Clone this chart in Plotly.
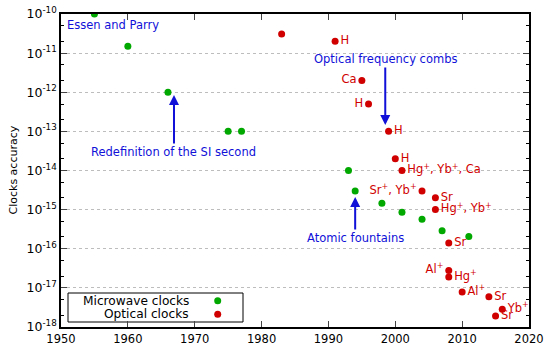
import math
import plotly.graph_objects as go

# ---- data ----
mw_years = [1955, 1960, 1966, 1975, 1977, 1993, 1994, 1998, 2001, 2004, 2007, 2011]
mw_acc = [1e-10, 1.5e-11, 1e-12, 1e-13, 1e-13, 1e-14, 3e-15, 1.45e-15, 8.6e-16, 5.7e-16, 2.9e-16, 2.05e-16]

opt_years = [1983, 1991, 1995, 1996, 1999, 2000, 2001, 2004, 2006, 2006, 2008, 2008, 2008, 2010, 2014, 2016, 2015]
opt_acc = [3.1e-11, 2e-11, 2e-12, 5e-13, 1e-13, 2e-14, 1e-14, 3e-15, 2e-15, 1e-15, 1.4e-16,
           2.8e-17, 1.9e-17, 7.9e-18, 5.9e-18, 2.85e-18, 1.9e-18]
opt_labels = ["", "H", "Ca", "H", "H", "H", "Hg<sup>+</sup>, Yb<sup>+</sup>, Ca", "Sr<sup>+</sup>, Yb<sup>+</sup>",
              "Sr", "Hg<sup>+</sup>, Yb<sup>+</sup>", "Sr", "Al<sup>+</sup>", "Hg<sup>+</sup>", "Al<sup>+</sup>",
              "Sr", "Yb<sup>+</sup>", "Sr"]
opt_label_side = ["middle right", "middle right", "middle left", "middle left", "middle right", "middle right",
                  "middle right", "middle left", "middle right", "middle right", "middle right", "middle left",
                  "middle right", "middle right", "middle right", "middle right", "middle right"]

x_ticks = [1950, 1960, 1970, 1980, 1990, 2000, 2010, 2020]
y_exps = [-18, -17, -16, -15, -14, -13, -12, -11, -10]
y_ticktext = ["10<sup>%d</sup>" % e for e in y_exps]

# events: (label, year, accuracy at arrow head, text offset px)
events = [
    ("Redefinition of the SI second", 1966.9, 8.5e-13, 57),
    ("Optical frequency combs", 1998.5, 1.45e-13, -66),
    ("Atomic fountains", 1994.0, 2.1e-15, 41),
]

GREEN = "#00a800"
RED = "#d00000"
BLUE = "#1010d8"
FONT = "DejaVu Sans"

fig = go.Figure()
fig.add_trace(go.Scatter(x=mw_years, y=mw_acc, mode="markers", name="Microwave clocks",
                         marker=dict(color=GREEN, size=7), showlegend=False))
fig.add_trace(go.Scatter(x=opt_years, y=opt_acc, mode="markers+text", name="Optical clocks",
                         text=opt_labels, textposition=opt_label_side,
                         textfont=dict(color=RED, size=11.5, family=FONT),
                         marker=dict(color=RED, size=7), showlegend=False))

annotations = []
for label, yr, acc, off in events:
    annotations.append(dict(x=yr, y=math.log10(acc), xref="x", yref="y", text=label,
                            showarrow=True, ax=0, ay=off, arrowhead=2, arrowsize=1,
                            arrowwidth=2, arrowcolor=BLUE, standoff=0,
                            font=dict(color=BLUE, size=11.5, family=FONT)))
annotations.append(dict(x=1950.6, y=-10.28, xref="x", yref="y", text="Essen and Parry",
                        showarrow=False, xanchor="left", yanchor="middle",
                        font=dict(color=BLUE, size=11.5, family=FONT)))
# y axis title
annotations.append(dict(x=(13 - 61) / 468, y=0.5, xref="paper", yref="paper", text="Clocks accuracy",
                        showarrow=False, textangle=-90, xanchor="center", yanchor="middle",
                        font=dict(color="black", size=11, family=FONT)))

# manual legend (text left, marker right)
annotations.append(dict(x=(191 - 61) / 468, y=(327 - 300.7) / 313, xref="paper", yref="paper",
                        text="Microwave clocks", showarrow=False, xanchor="right", yanchor="middle",
                        font=dict(color="black", size=12.2, family=FONT)))
annotations.append(dict(x=(191 - 61) / 468, y=(327 - 314.3) / 313, xref="paper", yref="paper",
                        text="Optical clocks", showarrow=False, xanchor="right", yanchor="middle",
                        font=dict(color="black", size=12.2, family=FONT)))
shapes = [
    dict(type="rect", xref="paper", yref="paper", x0=(68 - 61) / 468, x1=(243 - 61) / 468,
         y0=(327 - 322) / 313, y1=(327 - 293) / 313, line=dict(color="black", width=1),
         fillcolor="white", layer="below"),
]
for yy, col in [(300.7, GREEN), (314.3, RED)]:
    shapes.append(dict(type="circle", xref="paper", yref="paper", xsizemode="pixel", ysizemode="pixel",
                       xanchor=(217.7 - 61) / 468, yanchor=(327 - yy) / 313,
                       x0=-3.5, x1=3.5, y0=-3.5, y1=3.5, fillcolor=col, line=dict(width=0)))

fig.update_layout(
    width=545, height=345,
    margin=dict(l=61, r=16, t=14, b=18, autoexpand=False),
    paper_bgcolor="white", plot_bgcolor="white",
    font=dict(family=FONT, size=11, color="black"),
    annotations=annotations, shapes=shapes,
    showlegend=False,
)
fig.update_xaxes(range=[1950, 2020], tickvals=x_ticks, ticks="inside", ticklen=6,
                 showline=True, linecolor="black", linewidth=1.5, mirror="allticks",
                 showgrid=False, zeroline=False, tickfont=dict(size=11.5), automargin=False)
fig.update_yaxes(type="log", range=[-18, -10], tickvals=[10.0 ** e for e in y_exps], ticktext=y_ticktext,
                 ticks="inside", ticklen=6, showline=True, linecolor="black", linewidth=1.5,
                 mirror="allticks", showgrid=True, gridcolor="#bdbdbd", griddash="dot", gridwidth=1,
                 zeroline=False, tickfont=dict(size=12.5), automargin=False,
                 minor=dict(tickvals=[m * 10.0 ** e for e in range(-18, -10) for m in (2, 5)],
                            ticks="inside", ticklen=3, tickcolor="black", showgrid=False))

fig.write_html("out.html", config={"displayModeBar": False},
               post_script="document.body.style.margin='0';")
